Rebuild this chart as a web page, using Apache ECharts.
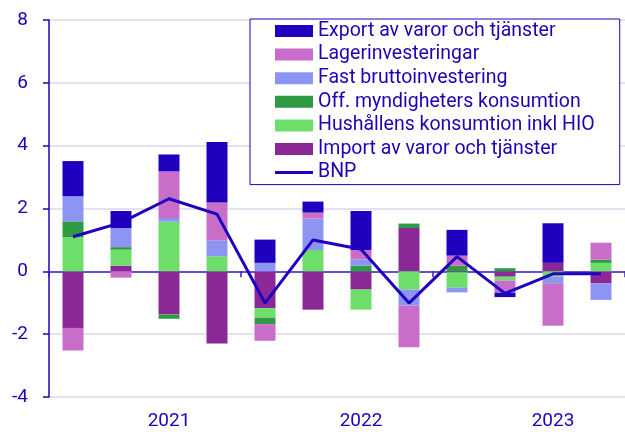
<!DOCTYPE html>
<html lang="sv">
<head>
<meta charset="UTF-8">
<title>BNP bidrag</title>
<script src="https://cdn.jsdelivr.net/npm/echarts@6/dist/echarts.min.js"></script>
<style>
  *{ margin:0; padding:0; }
  #main{ width:625px; height:432px; background:#fff; }
</style>
</head>
<body>
<div id="main"></div>
<script>
// kvartal 2021K1 - 2023K4
var quarters = ['2021K1','2021K2','2021K3','2021K4','2022K1','2022K2','2022K3','2022K4','2023K1','2023K2','2023K3','2023K4'];
var importVals = [-1.8, 0.18, -1.37, -2.3, -1.17, -1.22, -0.58, 1.38, -0.03, -0.17, 0.27, -0.38];
var hushall    = [1.09, 0.51, 1.58, 0.48, -0.31, 0.68, -0.64, -0.58, -0.49, -0.12, -0.17, 0.27];
var offMynd    = [0.5, 0.08, -0.14, 0, -0.2, 0, 0.18, 0.14, 0.18, 0.1, 0, 0.1];
var fastInv    = [0.8, 0.61, 0.12, 0.51, 0.27, 1.0, 0.2, -0.51, -0.15, 0, -0.21, -0.53];
var lager      = [-0.72, -0.2, 1.48, 1.2, -0.53, 0.19, 0.3, -1.33, 0.32, -0.39, -1.35, 0.54];
var exportVals = [1.12, 0.54, 0.54, 1.93, 0.74, 0.35, 1.24, 0, 0.82, -0.14, 1.26, 0];
var bnp        = [1.1, 1.55, 2.31, 1.82, -1.01, 1.0, 0.7, -1.01, 0.47, -0.7, -0.08, -0.08];
var yTicks = [-4, -2, 0, 2, 4, 6, 8];

var textColor = '#2200b4';
var font = 'Roboto';

var myChart = echarts.init(document.getElementById('main'));

function barSeries(name, data, color){
    return {
        name: name,
        type: 'bar',
        stack: 'bidrag',
        barWidth: 21,
        data: data,
        itemStyle: { color: color }
    };
}

var option = {
    animation: false,
    textStyle: { fontFamily: font },
    grid: { left: 49, right: -4, top: 20, bottom: 35 },
    legend: {
        orient: 'vertical',
        left: 250,
        top: 19,
        padding: [2, 25, 2, 25],
        itemWidth: 38,
        itemHeight: 12,
        itemGap: 3.6,
        borderColor: textColor,
        borderWidth: 1,
        backgroundColor: '#fff',
        textStyle: { color: textColor, fontSize: 19.5, fontFamily: font, lineHeight: 19.7 },
        data: [
            { name: 'Export av varor och tjänster', icon: 'rect' },
            { name: 'Lagerinvesteringar', icon: 'rect' },
            { name: 'Fast bruttoinvestering', icon: 'rect' },
            { name: 'Off. myndigheters konsumtion', icon: 'rect' },
            { name: 'Hushållens konsumtion inkl HIO', icon: 'rect' },
            { name: 'Import av varor och tjänster', icon: 'rect' },
            { name: 'BNP', icon: 'path://M0,0h38v3h-38z' }
        ]
    },
    xAxis: [
        {
            type: 'category',
            data: quarters,
            position: 'bottom',
            axisLine: { show: false, onZero: false },
            axisTick: { show: false },
            axisLabel: {
                color: textColor,
                fontSize: 19,
                margin: 15,
                interval: function(i){ return i % 4 === 2; },
                formatter: function(v){ return v.slice(0, 4); }
            }
        },
        {
            type: 'category',
            data: quarters,
            position: 'bottom',
            axisLine: { show: true, onZero: true, lineStyle: { color: '#3a22c4', width: 1.6 } },
            axisTick: {
                show: true,
                length: 6,
                interval: 3,
                lineStyle: { color: '#3a22c4', width: 1.5 }
            },
            axisLabel: { show: false }
        }
    ],
    yAxis: {
        type: 'value',
        min: yTicks[0],
        max: yTicks[yTicks.length - 1],
        interval: 2,
        axisLine: { show: true, lineStyle: { color: textColor, width: 1.5 } },
        axisTick: { show: true, length: 6, lineStyle: { color: textColor, width: 1.5 } },
        axisLabel: { color: textColor, fontSize: 19, margin: 21 },
        splitLine: { lineStyle: { color: '#d8d8f0', width: 1.5 } }
    },
    series: [
        barSeries('Import av varor och tjänster', importVals, '#8c2896'),
        barSeries('Hushållens konsumtion inkl HIO', hushall, '#6ede6a'),
        barSeries('Off. myndigheters konsumtion', offMynd, '#2f9a44'),
        barSeries('Fast bruttoinvestering', fastInv, '#8c96f2'),
        barSeries('Lagerinvesteringar', lager, '#c86ec8'),
        barSeries('Export av varor och tjänster', exportVals, '#1e00be'),
        {
            name: 'BNP',
            type: 'line',
            data: bnp,
            symbol: 'none',
            z: 5,
            lineStyle: { color: '#1e00be', width: 3 },
            itemStyle: { color: '#1e00be' }
        }
    ]
};

myChart.setOption(option);
</script>
</body>
</html>
